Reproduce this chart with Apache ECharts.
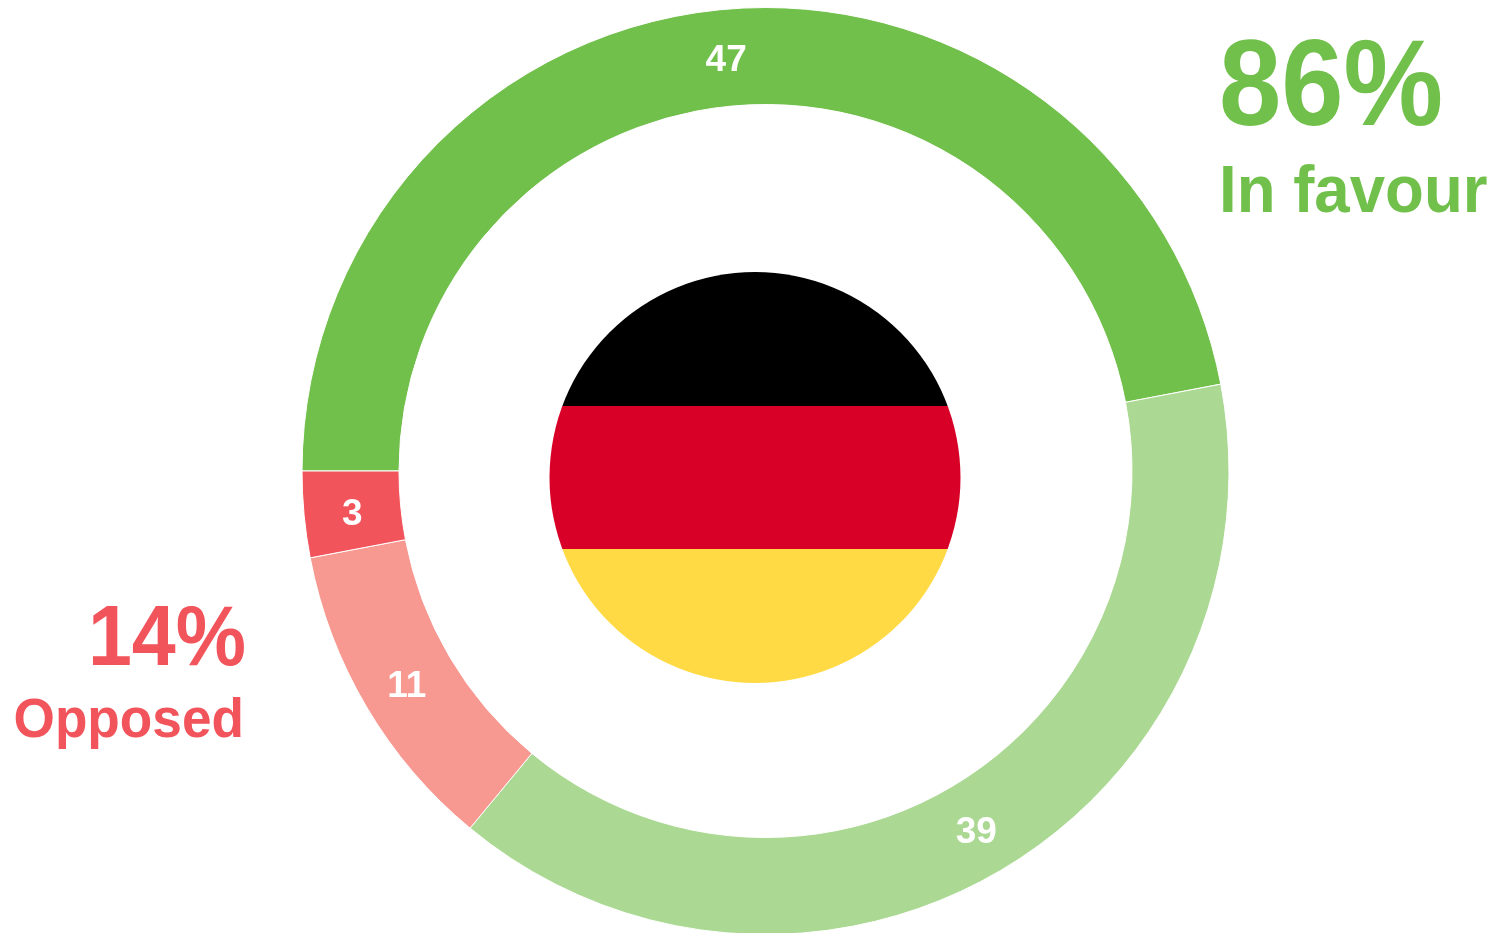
<!DOCTYPE html>
<html>
<head>
<meta charset="utf-8" />
<title>Germany</title>
<script src="https://cdn.jsdelivr.net/npm/echarts@6/dist/echarts.min.js"></script>
<style>
  html, body { margin: 0; padding: 0; background: #fff; }
  #chart { width: 1497px; height: 933px; }
</style>
</head>
<body>
<div id="chart"></div>
<script>
const categories = ["In favour strong", "In favour", "Opposed", "Opposed strong"];
const values = [47, 39, 11, 3];
const sliceColors = ["#72c04c", "#abd993", "#f79991", "#f2545b"];

const chart = echarts.init(document.getElementById("chart"));
const font = "Arial, 'Liberation Sans', sans-serif";

// 标签相对默认位置的微调
const labelNudge = [[0, 6], [-2, 2], [1, 3], [3, 4]];

// 旗子用硬分段的渐变填充
const flagFill = new echarts.graphic.LinearGradient(0, 0, 0, 1, [
  { offset: 0, color: "#000000" },
  { offset: 0.326, color: "#000000" },
  { offset: 0.326, color: "#d80027" },
  { offset: 0.674, color: "#d80027" },
  { offset: 0.674, color: "#ffda44" },
  { offset: 1, color: "#ffda44" },
]);

chart.setOption({
  animation: false,
  backgroundColor: "#fff",
  series: [
    {
      type: "pie",
      center: [765.5, 471],
      radius: [366.5, 463.5],
      startAngle: 180,
      clockwise: true,
      silent: true,
      color: sliceColors,
      itemStyle: { borderColor: "#fff", borderWidth: 1 },
      label: {
        show: true,
        position: "inside",
        formatter: "{c}",
        color: "#fff",
        fontFamily: font,
        fontWeight: "bold",
        fontSize: 37,
      },
      labelLine: { show: false },
      data: categories.map((name, i) => ({
        name: name,
        value: values[i],
        label: { offset: labelNudge[i] },
      })),
    },
  ],
  graphic: [
    {
      type: "circle",
      shape: { cx: 755, cy: 477.5, r: 205.5 },
      style: { fill: flagFill },
      silent: true,
    },
    {
      type: "text",
      x: 1219,
      y: 30,
      scaleY: 1.09,
      style: { text: "86%", fill: "#72c04c", font: "bold 112px " + font },
    },
    {
      type: "text",
      x: 1219,
      y: 160,
      scaleY: 1.05,
      style: { text: "In favour", fill: "#72c04c", font: "bold 63.6px " + font },
    },
    {
      type: "text",
      x: 246,
      y: 599,
      scaleY: 1.08,
      style: { text: "14%", fill: "#f2545b", align: "right", font: "bold 79px " + font },
    },
    {
      type: "text",
      x: 244,
      y: 695,
      scaleY: 1.03,
      style: { text: "Opposed", fill: "#f2545b", align: "right", font: "bold 53.2px " + font },
    },
  ],
});
</script>
</body>
</html>
